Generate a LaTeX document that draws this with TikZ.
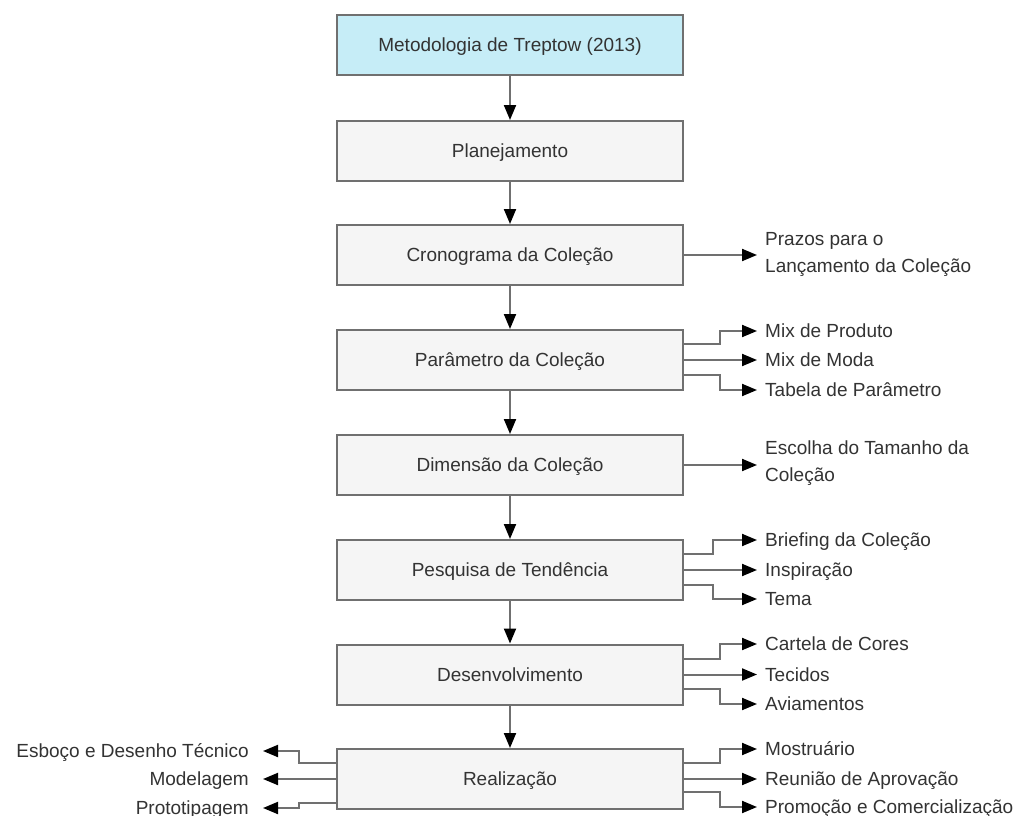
\documentclass[tikz,border=0pt]{standalone}
\usepackage{fontspec}
\setmainfont{Liberation Sans}
\usetikzlibrary{arrows.meta}
\definecolor{ink}{RGB}{51,51,51}
\definecolor{edge}{RGB}{112,112,112}
\definecolor{boxfill}{RGB}{245,245,245}
\definecolor{headfill}{RGB}{198,237,247}
\begin{document}
\begin{tikzpicture}[x=1pt,y=-1pt,
  font=\fontsize{19}{27}\selectfont,
  stage/.style={draw=edge, fill=boxfill, line width=2pt, minimum width=346pt,
    minimum height=60pt, inner sep=0pt, text=ink, text height=13.5pt, text depth=0pt},
  flow/.style={draw=edge, line width=2pt, -{Triangle[length=15pt,width=12pt,black]}},
  rlabel/.style={anchor=west, inner xsep=8pt, inner ysep=0pt, text=ink,
    text height=13.5pt, text depth=0pt},
  llabel/.style={anchor=east, inner xsep=14pt, inner ysep=0pt, text=ink,
    text height=13.5pt, text depth=0pt},
  mlabel/.style={anchor=west, inner xsep=8pt, inner ysep=0pt, text=ink, align=left},
]
\useasboundingbox (0,0) rectangle (1020,816);
\fill[white] (0,0) rectangle (1020,816);

% main column of stages
\node[stage, fill=headfill] (met) at (510,45)  {Metodologia de Treptow (2013)};
\node[stage] (pla) at (510,151)   {Planejamento};
\node[stage] (cro) at (510,255)   {Cronograma da Coleção};
\node[stage] (par) at (510,360)   {Parâmetro da Coleção};
\node[stage] (dim) at (510,465)   {Dimensão da Coleção};
\node[stage] (pes) at (510,570)   {Pesquisa de Tendência};
\node[stage] (des) at (510,674.5) {Desenvolvimento};
\node[stage] (rea) at (510,779)   {Realização};

\draw[flow] (met) -- (pla);
\draw[flow] (pla) -- (cro);
\draw[flow] (cro) -- (par);
\draw[flow] (par) -- (dim);
\draw[flow] (dim) -- (pes);
\draw[flow] (pes) -- (des);
\draw[flow] (des) -- (rea);

% outputs of each stage
\node[mlabel] (prz) at (757,254) {Prazos para o\\Lançamento da Coleção};
\draw[flow] (cro.east) -- (cro.east -| prz.west);

\node[rlabel] (par1) at (757,331) {Mix de Produto};
\node[rlabel] (par2) at (757,360) {Mix de Moda};
\node[rlabel] (par3) at (757,390) {Tabela de Parâmetro};
\draw[flow] ([yshift=16pt]par.east) -- ++(36,0) |- (par1.west);
\draw[flow] (par.east) -- (par2.west);
\draw[flow] ([yshift=-15pt]par.east) -- ++(36,0) |- (par3.west);

\node[mlabel] (esc) at (757,463) {Escolha do Tamanho da\\Coleção};
\draw[flow] (dim.east) -- (dim.east -| esc.west);

\node[rlabel] (pes1) at (757,540) {Briefing da Coleção};
\node[rlabel] (pes2) at (757,570) {Inspiração};
\node[rlabel] (pes3) at (757,599) {Tema};
\draw[flow] ([yshift=16pt]pes.east) -- ++(29,0) |- (pes1.west);
\draw[flow] (pes.east) -- (pes2.west);
\draw[flow] ([yshift=-15pt]pes.east) -- ++(29,0) |- (pes3.west);

\node[rlabel] (des1) at (757,644)   {Cartela de Cores};
\node[rlabel] (des2) at (757,674.5) {Tecidos};
\node[rlabel] (des3) at (757,704)   {Aviamentos};
\draw[flow] ([yshift=15.5pt]des.east) -- ++(36,0) |- (des1.west);
\draw[flow] (des.east) -- (des2.west);
\draw[flow] ([yshift=-14.5pt]des.east) -- ++(36,0) |- (des3.west);

\node[rlabel] (rea1) at (757,749) {Mostruário};
\node[rlabel] (rea2) at (757,779) {Reunião de Aprovação};
\node[rlabel] (rea3) at (757,807) {Promoção e Comercialização};
\draw[flow] ([yshift=16pt]rea.east) -- ++(36,0) |- (rea1.west);
\draw[flow] (rea.east) -- (rea2.west);
\draw[flow] ([yshift=-13pt]rea.east) -- ++(36,0) |- (rea3.west);

\node[llabel] (rea4) at (263,751) {Esboço e Desenho Técnico};
\node[llabel] (rea5) at (263,779) {Modelagem};
\node[llabel] (rea6) at (263,808) {Prototipagem};
\draw[flow] ([yshift=16pt]rea.west) -- ++(-37,0) |- (rea4.east);
\draw[flow] (rea.west) -- (rea5.east);
\draw[flow] ([yshift=-24pt]rea.west) -- ++(-37,0) |- (rea6.east);
\end{tikzpicture}
\end{document}
